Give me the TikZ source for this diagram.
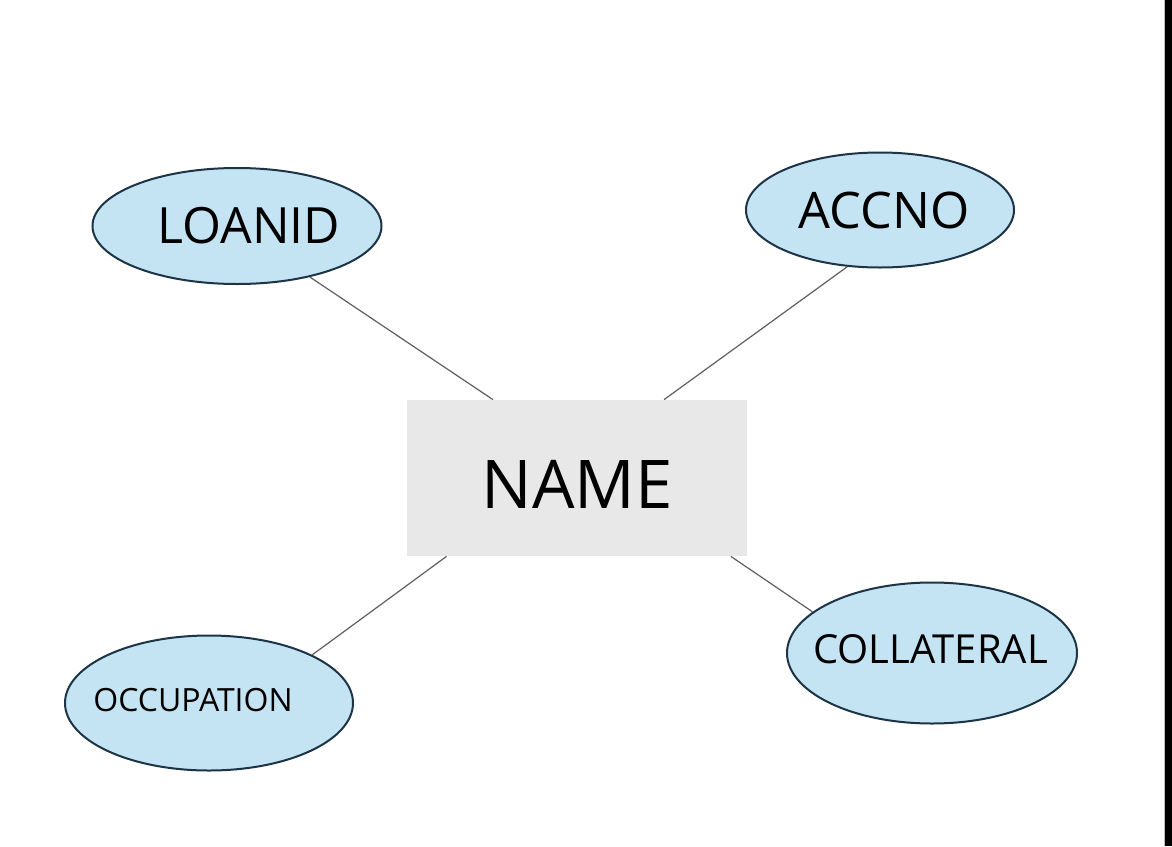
\documentclass[tikz,border=0pt]{standalone}
\usepackage{fontspec}
\setmainfont{Open Sans}
\usetikzlibrary{shapes,positioning}
\definecolor{attrblue}{RGB}{197,228,243}
\definecolor{attrline}{RGB}{28,52,70}
\definecolor{boxgrey}{RGB}{232,232,232}
\definecolor{linkgrey}{RGB}{95,95,95}

\begin{document}
\begin{tikzpicture}[x=0.5pt,y=-0.5pt,
  attr/.style={ellipse,draw=attrline,line width=1pt,fill=attrblue,inner sep=0pt},
  link/.style={draw=linkgrey,line width=0.6pt}]
   \useasboundingbox (0,0) rectangle (1172,846);
   \fill[white] (0,0) rectangle (1172,846);
   \draw[gray!50,line width=0.5pt] (1164,0) -- (1164,846);
   \fill[black] (1165,0) rectangle (1172,846);
   \node (NAME) at (577,478)[fill=boxgrey,minimum width=170pt,minimum height=78pt,
     text height=30pt,text depth=0pt,font=\fontsize{33.6}{34}\selectfont] {NAME};
   \node (LOANID) at (237,226)[attr,minimum width=144.5pt,minimum height=58pt,
     label={[xshift=6pt,font=\fontsize{25}{25}\selectfont]center:LOANID}] {};
   \node (ACCNO) at (880,210)[attr,minimum width=134pt,minimum height=57.5pt,
     label={[xshift=2pt,font=\fontsize{25.2}{25}\selectfont]center:ACCNO}] {};
   \node (OCC) at (209,703)[attr,minimum width=144pt,minimum height=67.5pt,
     label={[xshift=-8pt,yshift=1.5pt,font=\fontsize{16}{16}\selectfont]center:OCCUPATION}] {};
   \node (COLL) at (932,653)[attr,minimum width=145pt,minimum height=70.5pt,
     label={[xshift=-0.75pt,yshift=2pt,font=\fontsize{20}{20}\selectfont]center:COLLATERAL}] {};
   \draw[link] (LOANID.-35) -- (NAME.137);
   \draw[link] (ACCNO.240) -- (NAME.42);
   \draw[link] (OCC.25) -- (NAME.211);
   \draw[link] (COLL.161) -- (NAME.-27);
\end{tikzpicture}
\end{document}
